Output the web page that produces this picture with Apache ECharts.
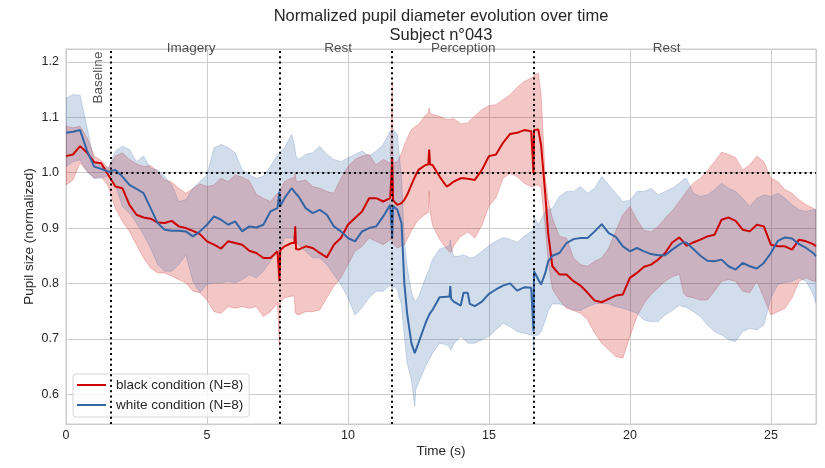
<!DOCTYPE html>
<html>
<head>
<meta charset="utf-8">
<title>Normalized pupil diameter evolution over time</title>
<script src="https://cdn.jsdelivr.net/npm/echarts@6/dist/echarts.min.js"></script>
<style>
html, body { margin: 0; padding: 0; background: #fff; }
#main { width: 825px; height: 468px; }
</style>
</head>
<body>
<div id="main"></div>
<script>
// time (s) of each sample
var times = [0, 0.25, 0.5, 0.75, 1, 1.25, 1.5, 1.75, 2, 2.25,
    2.5, 2.75, 3, 3.25, 3.5, 3.75, 4, 4.25, 4.5, 4.75,
    5, 5.25, 5.5, 5.75, 6, 6.25, 6.5, 6.75, 7, 7.25,
    7.5, 7.57, 7.6, 7.75, 8, 8.1, 8.13, 8.16, 8.25, 8.5,
    8.75, 9, 9.25, 9.5, 9.75, 10, 10.25, 10.5, 10.75, 11,
    11.25, 11.5, 11.57, 11.6, 11.75, 11.9, 12, 12.1, 12.25, 12.37,
    12.4, 12.5, 12.75, 12.85, 12.88, 12.91, 13, 13.25, 13.5, 13.6,
    13.63, 13.66, 13.75, 14, 14.1, 14.25, 14.32, 14.5, 14.75, 15,
    15.25, 15.5, 15.75, 16, 16.25, 16.5, 16.56, 16.58, 16.6, 16.75,
    16.85, 17, 17.1, 17.25, 17.5, 17.75, 18, 18.25, 18.5, 18.75,
    19, 19.25, 19.5, 19.75, 20, 20.25, 20.5, 20.75, 21, 21.25,
    21.5, 21.75, 21.9, 22, 22.25, 22.5, 22.75, 23, 23.25, 23.5,
    23.75, 24, 24.25, 24.5, 24.75, 25, 25.25, 25.5, 25.75, 26,
    26.25, 26.5, 26.6];

// black condition: mean and band
var blackMean = [1.030, 1.033, 1.048, 1.036, 1.019, 1.017, 0.996, 0.975, 0.972, 0.942,
    0.924, 0.919, 0.917, 0.910, 0.909, 0.913, 0.903, 0.900, 0.895, 0.889,
    0.876, 0.870, 0.863, 0.876, 0.873, 0.870, 0.859, 0.855, 0.846, 0.846,
    0.858, 0.804, 0.860, 0.867, 0.873, 0.873, 0.903, 0.862, 0.861, 0.867,
    0.864, 0.855, 0.847, 0.870, 0.882, 0.906, 0.918, 0.930, 0.954, 0.954,
    0.948, 0.954, 1.027, 0.950, 0.942, 0.945, 0.951, 0.960, 0.978, 0.992,
    0.995, 1.005, 1.014, 1.015, 1.042, 1.015, 1.014, 0.993, 0.975, 0.978,
    0.979, 0.980, 0.984, 0.990, 0.990, 0.989, 0.988, 0.987, 1.005, 1.030,
    1.033, 1.054, 1.070, 1.072, 1.077, 1.075, 1.075, 0.999, 1.077, 1.078,
    1.050, 0.960, 0.891, 0.831, 0.816, 0.816, 0.804, 0.796, 0.783, 0.769,
    0.766, 0.772, 0.778, 0.780, 0.810, 0.819, 0.830, 0.834, 0.843, 0.855,
    0.874, 0.883, 0.875, 0.868, 0.874, 0.879, 0.885, 0.888, 0.915, 0.919,
    0.913, 0.897, 0.894, 0.906, 0.903, 0.870, 0.867, 0.867, 0.861, 0.879,
    0.876, 0.871, 0.867];
var blackLow = [0.978, 0.987, 1.018, 1.002, 0.990, 0.993, 0.975, 0.936, 0.912, 0.894,
    0.870, 0.846, 0.828, 0.819, 0.819, 0.813, 0.807, 0.801, 0.786, 0.783,
    0.770, 0.749, 0.746, 0.758, 0.755, 0.758, 0.755, 0.758, 0.740, 0.749,
    0.764, 0.686, 0.766, 0.774, 0.777, 0.777, 0.748, 0.745, 0.743, 0.749,
    0.749, 0.752, 0.774, 0.795, 0.810, 0.834, 0.858, 0.867, 0.882, 0.876,
    0.870, 0.879, 0.879, 0.872, 0.864, 0.868, 0.870, 0.880, 0.895, 0.905,
    0.908, 0.915, 0.925, 0.928, 0.966, 0.930, 0.905, 0.880, 0.862, 0.857,
    0.856, 0.857, 0.868, 0.885, 0.888, 0.893, 0.890, 0.882, 0.905, 0.940,
    0.955, 0.990, 0.999, 0.993, 0.981, 0.975, 0.975, 0.975, 0.977, 0.978,
    0.972, 0.900, 0.840, 0.790, 0.770, 0.755, 0.751, 0.746, 0.734, 0.710,
    0.692, 0.680, 0.668, 0.665, 0.704, 0.740, 0.764, 0.780, 0.792, 0.804,
    0.812, 0.817, 0.783, 0.777, 0.774, 0.770, 0.770, 0.786, 0.804, 0.807,
    0.804, 0.786, 0.783, 0.804, 0.774, 0.743, 0.749, 0.755, 0.774, 0.804,
    0.810, 0.804, 0.804];
var blackHigh = [1.084, 1.081, 1.084, 1.063, 1.030, 1.022, 1.008, 1.030, 1.036, 1.024,
    1.016, 1.011, 1.013, 1.002, 0.987, 0.983, 0.972, 0.963, 0.971, 0.980,
    0.975, 0.978, 0.990, 0.984, 0.996, 0.992, 0.985, 0.961, 0.954, 0.948,
    0.963, 0.963, 0.968, 0.984, 0.990, 0.992, 0.999, 0.985, 0.984, 0.987,
    0.975, 0.972, 0.966, 0.963, 0.990, 1.011, 1.024, 1.030, 1.033, 1.014,
    1.024, 1.017, 1.165, 1.018, 1.020, 1.035, 1.050, 1.062, 1.078, 1.083,
    1.084, 1.087, 1.104, 1.108, 1.117, 1.108, 1.105, 1.102, 1.096, 1.096,
    1.097, 1.097, 1.098, 1.088, 1.089, 1.090, 1.094, 1.102, 1.114, 1.121,
    1.123, 1.132, 1.141, 1.154, 1.165, 1.171, 1.172, 1.174, 1.176, 1.180,
    1.141, 0.990, 0.950, 0.918, 0.885, 0.882, 0.846, 0.834, 0.831, 0.840,
    0.846, 0.864, 0.895, 0.924, 0.939, 0.915, 0.896, 0.893, 0.903, 0.918,
    0.931, 0.948, 0.958, 0.966, 0.981, 0.990, 1.004, 1.020, 1.037, 1.033,
    1.027, 1.005, 1.014, 1.030, 1.020, 0.990, 0.984, 0.969, 0.963, 0.951,
    0.942, 0.936, 0.933];

// white condition: mean and band
var whiteMean = [1.072, 1.074, 1.077, 1.039, 1.011, 1.007, 1.002, 1.005, 0.993, 0.978,
    0.971, 0.963, 0.936, 0.909, 0.897, 0.895, 0.895, 0.894, 0.885, 0.894,
    0.906, 0.921, 0.915, 0.906, 0.912, 0.894, 0.903, 0.901, 0.906, 0.930,
    0.936, 0.966, 0.940, 0.954, 0.972, 0.966, 0.964, 0.962, 0.957, 0.936,
    0.927, 0.933, 0.924, 0.903, 0.894, 0.882, 0.876, 0.894, 0.900, 0.903,
    0.921, 0.942, 0.882, 0.940, 0.933, 0.909, 0.800, 0.745, 0.692, 0.674,
    0.676, 0.692, 0.728, 0.740, 0.743, 0.746, 0.752, 0.775, 0.776, 0.776,
    0.795, 0.772, 0.767, 0.760, 0.783, 0.783, 0.763, 0.759, 0.767, 0.781,
    0.789, 0.796, 0.800, 0.787, 0.793, 0.792, 0.792, 0.713, 0.822, 0.807,
    0.798, 0.819, 0.840, 0.850, 0.855, 0.873, 0.880, 0.882, 0.882, 0.894,
    0.907, 0.891, 0.884, 0.867, 0.858, 0.864, 0.858, 0.853, 0.851, 0.851,
    0.861, 0.870, 0.874, 0.874, 0.862, 0.850, 0.841, 0.840, 0.843, 0.831,
    0.825, 0.837, 0.831, 0.827, 0.837, 0.855, 0.877, 0.883, 0.881, 0.871,
    0.864, 0.855, 0.849];
var whiteLow = [1.011, 1.020, 1.023, 1.002, 0.990, 0.990, 0.995, 0.978, 0.939, 0.927,
    0.909, 0.888, 0.864, 0.834, 0.822, 0.822, 0.834, 0.852, 0.804, 0.783,
    0.798, 0.801, 0.801, 0.804, 0.801, 0.807, 0.816, 0.810, 0.822, 0.840,
    0.858, 0.858, 0.862, 0.882, 0.882, 0.880, 0.878, 0.876, 0.870, 0.858,
    0.846, 0.846, 0.834, 0.816, 0.798, 0.774, 0.743, 0.756, 0.774, 0.786,
    0.786, 0.798, 0.790, 0.795, 0.789, 0.760, 0.704, 0.656, 0.626, 0.578,
    0.608, 0.620, 0.650, 0.660, 0.662, 0.665, 0.674, 0.692, 0.689, 0.685,
    0.680, 0.680, 0.690, 0.704, 0.700, 0.692, 0.692, 0.692, 0.698, 0.704,
    0.716, 0.728, 0.722, 0.713, 0.710, 0.707, 0.706, 0.668, 0.705, 0.707,
    0.712, 0.734, 0.750, 0.763, 0.763, 0.758, 0.752, 0.751, 0.758, 0.763,
    0.764, 0.763, 0.758, 0.755, 0.751, 0.746, 0.734, 0.731, 0.731, 0.743,
    0.751, 0.760, 0.758, 0.757, 0.749, 0.740, 0.725, 0.713, 0.707, 0.698,
    0.695, 0.713, 0.719, 0.716, 0.725, 0.774, 0.798, 0.802, 0.804, 0.810,
    0.804, 0.780, 0.764];
var whiteHigh = [1.135, 1.141, 1.140, 1.081, 1.020, 1.012, 1.008, 1.039, 1.048, 1.042,
    1.020, 1.030, 1.008, 1.005, 0.993, 0.978, 0.948, 0.951, 0.972, 0.984,
    0.996, 1.045, 1.051, 1.045, 1.036, 1.005, 0.996, 0.990, 0.993, 1.011,
    1.033, 1.033, 1.036, 1.045, 1.069, 1.050, 1.040, 1.030, 1.024, 1.033,
    1.036, 1.048, 1.033, 1.024, 1.020, 1.027, 1.033, 1.039, 1.030, 1.039,
    1.051, 1.075, 1.075, 1.078, 1.069, 0.990, 0.880, 0.830, 0.785, 0.767,
    0.768, 0.775, 0.810, 0.822, 0.825, 0.830, 0.843, 0.862, 0.866, 0.868,
    0.879, 0.868, 0.848, 0.850, 0.852, 0.848, 0.846, 0.848, 0.858, 0.868,
    0.876, 0.883, 0.880, 0.874, 0.885, 0.894, 0.896, 0.900, 0.920, 0.906,
    0.915, 0.930, 0.933, 0.936, 0.957, 0.966, 0.966, 0.975, 0.963, 0.972,
    0.993, 0.978, 0.963, 0.948, 0.950, 0.966, 0.966, 0.972, 0.960, 0.966,
    0.972, 0.981, 0.988, 0.990, 0.963, 0.957, 0.960, 0.969, 0.981, 0.972,
    0.966, 0.954, 0.939, 0.954, 0.960, 0.957, 0.963, 0.954, 0.942, 0.933,
    0.930, 0.933, 0.933];

// phase boundaries and labels
var phaseBounds = [1.57, 7.57, 11.57, 16.58];
var phaseNames = ['Imagery', 'Rest', 'Perception', 'Rest'];
var phaseX = [4.44, 9.65, 14.09, 21.3];
var phaseY = 1.2245;
var baselinePos = [1.15, 1.172];
var xMax = 26.6;

var font = "'Liberation Sans', Arial, sans-serif";
var textColor = '#262626';
var redColor = '#cc0000';
var blueColor = '#3465a4';
var redFill = 'rgba(204,0,0,0.22)';
var blueFill = 'rgba(52,101,164,0.22)';

function pairs(ys) {
    return times.map(function (t, i) { return [t, ys[i]]; });
}

// band between lo and hi, drawn as one polygon through the axis scales
function bandSeries(name, lo, hi, fill) {
    return {
        name: name,
        type: 'custom',
        data: [[0, 1]],
        silent: true,
        clip: true,
        z: 1,
        renderItem: function (params, api) {
            var pts = [];
            for (var i = 0; i < times.length; i++) pts.push(api.coord([times[i], hi[i]]));
            for (var j = times.length - 1; j >= 0; j--) pts.push(api.coord([times[j], lo[j]]));
            return {
                type: 'polygon',
                shape: { points: pts },
                style: { fill: fill, stroke: fill, lineWidth: 1 }
            };
        }
    };
}

var myChart = echarts.init(document.getElementById('main'));

// dotted markers: phase boundaries + baseline level
var markData = phaseBounds.map(function (b) { return { xAxis: b }; });
markData.push([{ coord: [phaseBounds[0], 1.0] }, { coord: [xMax, 1.0] }]);

var labelData = phaseNames.map(function (n, i) {
    return { name: n, value: [phaseX[i], phaseY] };
});
labelData.push({ name: 'Baseline', value: baselinePos, label: { rotate: 90 } });

var option = {
    animation: false,
    textStyle: { fontFamily: font },
    graphic: [{
        type: 'text',
        x: 441,
        y: 7,
        style: {
            text: 'Normalized pupil diameter evolution over time\nSubject n°043',
            align: 'center',
            verticalAlign: 'top',
            fontSize: 16.5,
            lineHeight: 19,
            fontFamily: font,
            fill: textColor
        }
    }],
    grid: {
        left: 66, top: 49, width: 750, height: 375,
        show: true, borderColor: '#cccccc', borderWidth: 1
    },
    legend: {
        data: ['black condition (N=8)', 'white condition (N=8)'],
        orient: 'vertical',
        left: 73,
        top: 374,
        icon: 'rect',
        itemWidth: 29,
        itemHeight: 2,
        itemGap: 6,
        padding: [4, 6, 5, 4],
        backgroundColor: 'rgba(255,255,255,0.8)',
        borderColor: 'rgba(204,204,204,0.8)',
        borderWidth: 1,
        borderRadius: 3,
        textStyle: { fontSize: 13.5, lineHeight: 14, color: textColor, fontFamily: font, padding: [0, 0, 0, 5] }
    },
    xAxis: {
        type: 'value',
        min: 0,
        max: xMax,
        splitNumber: 5,
        name: 'Time (s)',
        nameLocation: 'middle',
        nameGap: 20,
        nameMoveOverlap: false,
        nameTextStyle: { fontSize: 13.5, color: textColor, fontFamily: font },
        axisLine: { lineStyle: { color: '#cccccc' } },
        axisTick: { show: false },
        axisLabel: { color: textColor, fontSize: 12.5, margin: 5, showMaxLabel: false, fontFamily: font },
        splitLine: { lineStyle: { color: '#cccccc', width: 1 } }
    },
    yAxis: {
        type: 'value',
        min: 0.546,
        max: 1.2235,
        splitNumber: 6,
        name: 'Pupil size (normalized)',
        nameLocation: 'middle',
        nameGap: 30,
        nameMoveOverlap: false,
        nameTextStyle: { fontSize: 13.5, color: textColor, fontFamily: font },
        axisLine: { show: true, lineStyle: { color: '#cccccc' } },
        axisTick: { show: false },
        axisLabel: {
            color: textColor, fontSize: 12.5, margin: 7, fontFamily: font,
            showMinLabel: false, showMaxLabel: false,
            formatter: function (v) { return v.toFixed(1); }
        },
        splitLine: { lineStyle: { color: '#cccccc', width: 1 } }
    },
    series: [
        bandSeries('black band', blackLow, blackHigh, redFill),
        bandSeries('white band', whiteLow, whiteHigh, blueFill),
        {
            name: 'black condition (N=8)', type: 'line', data: pairs(blackMean),
            symbol: 'none', z: 3, color: redColor,
            lineStyle: { color: redColor, width: 2 }
        },
        {
            name: 'white condition (N=8)', type: 'line', data: pairs(whiteMean),
            symbol: 'none', z: 3, color: blueColor,
            lineStyle: { color: blueColor, width: 2 }
        },
        {
            name: 'phases', type: 'scatter', data: labelData,
            symbolSize: 1, clip: false, silent: true, z: 5,
            itemStyle: { color: 'rgba(0,0,0,0)' },
            label: {
                show: true, position: 'inside', formatter: '{b}',
                fontSize: 13.5, color: textColor, fontFamily: font
            },
            markLine: {
                silent: true,
                symbol: ['none', 'none'],
                label: { show: false },
                lineStyle: { color: '#000000', width: 2, type: [2, 3.3], opacity: 1 },
                emphasis: { disabled: true },
                data: markData
            }
        }
    ]
};

myChart.setOption(option);
</script>
</body>
</html>
